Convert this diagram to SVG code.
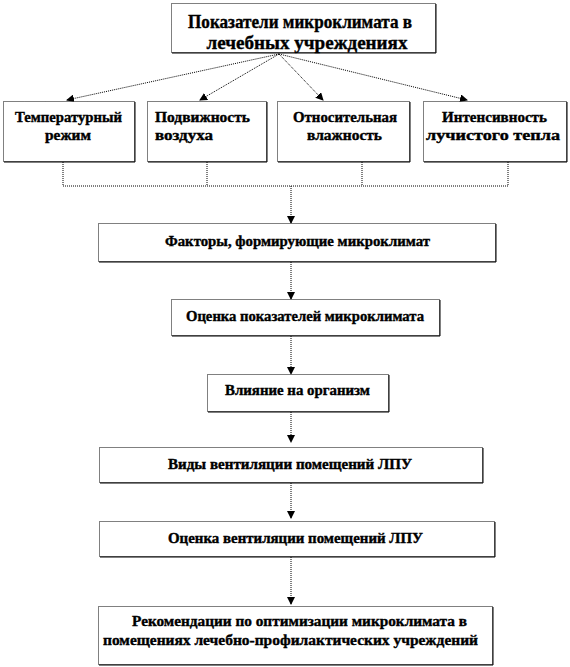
<svg xmlns="http://www.w3.org/2000/svg" width="570" height="667" viewBox="0 0 570 667">
<defs>
<marker id="ah" markerWidth="8" markerHeight="8" refX="7" refY="4" orient="auto" markerUnits="userSpaceOnUse">
<path d="M0,0 L8,4 L0,8 Z" fill="#000"/>
</marker>
<style>
.box{fill:#fff;stroke:#000;stroke-width:1;stroke-dasharray:1 1}
.sh{fill:none;stroke:#000;stroke-width:1}
.t{font-family:"Liberation Serif","Times New Roman",serif;font-weight:bold;fill:#000;stroke:#000;stroke-width:0.4}
.c{text-anchor:middle}
.f13{font-size:15px}
.f18{font-size:19px}
.ln{fill:none;stroke:#000;stroke-width:1;stroke-dasharray:1 1}
.ar{fill:none;stroke:#000;stroke-width:1;stroke-dasharray:1 1;marker-end:url(#ah)}
</style>
</defs>
<rect width="570" height="667" fill="#fff"/>
<g id="connectors">
<line class="ar" x1="279" y1="54" x2="67" y2="100"/>
<line class="ar" x1="279" y1="54" x2="200" y2="100"/>
<line class="ar" x1="279" y1="54" x2="323" y2="100"/>
<line class="ar" x1="279" y1="54" x2="467" y2="100"/>
<polyline class="ln" points="63,162 63,186 508,186 508,162"/>
<line class="ln" x1="207" y1="162" x2="207" y2="186"/>
<line class="ln" x1="362" y1="162" x2="362" y2="186"/>
<line class="ar" x1="291" y1="186" x2="291" y2="223"/>
<line class="ar" x1="291" y1="262" x2="291" y2="299"/>
<line class="ar" x1="291" y1="336" x2="291" y2="374"/>
<line class="ar" x1="291" y1="412" x2="291" y2="442"/>
<line class="ar" x1="291" y1="483" x2="291" y2="518"/>
<line class="ar" x1="291" y1="557" x2="291" y2="604"/>
</g>
<g id="n0">
<rect class="box" x="171.5" y="3.5" width="264" height="49"/>
<polyline class="sh" points="436,4 436,53 172,53"/>
<text class="t c f18" x="300" y="28" textLength="224" lengthAdjust="spacingAndGlyphs">Показатели микроклимата в</text>
<text class="t c f18" x="307" y="49" textLength="201" lengthAdjust="spacingAndGlyphs">лечебных учреждениях</text>
</g>
<g id="n1">
<rect class="box" x="3.5" y="101.5" width="131" height="60"/>
<polyline class="sh" points="135,102 135,162 4,162"/>
<text class="t c f13" x="68.5" y="122" textLength="107" lengthAdjust="spacingAndGlyphs">Температурный</text>
<text class="t c f13" x="68" y="140" textLength="46" lengthAdjust="spacingAndGlyphs">режим</text>
</g>
<g id="n2">
<rect class="box" x="147.5" y="101.5" width="119" height="60"/>
<polyline class="sh" points="267,102 267,162 148,162"/>
<text class="t f13" x="155" y="122" textLength="95" lengthAdjust="spacingAndGlyphs">Подвижность</text>
<text class="t f13" x="155" y="140" textLength="58" lengthAdjust="spacingAndGlyphs">воздуха</text>
</g>
<g id="n3">
<rect class="box" x="277.5" y="101.5" width="132" height="60"/>
<polyline class="sh" points="410,102 410,162 278,162"/>
<text class="t c f13" x="345" y="122" textLength="104" lengthAdjust="spacingAndGlyphs">Относительная</text>
<text class="t c f13" x="344.5" y="140" textLength="75" lengthAdjust="spacingAndGlyphs">влажность</text>
</g>
<g id="n4">
<rect class="box" x="423.5" y="101.5" width="143" height="60"/>
<polyline class="sh" points="567,102 567,162 424,162"/>
<text class="t c f13" x="494.5" y="122" textLength="105" lengthAdjust="spacingAndGlyphs">Интенсивность</text>
<text class="t c f13" x="493" y="140" textLength="134" lengthAdjust="spacingAndGlyphs">лучистого тепла</text>
</g>
<g id="n5">
<rect class="box" x="98.5" y="223.5" width="397" height="38"/>
<polyline class="sh" points="496,224 496,262 99,262"/>
<text class="t c f13" x="297.5" y="246" textLength="265" lengthAdjust="spacingAndGlyphs">Факторы, формирующие  микроклимат</text>
</g>
<g id="n6">
<rect class="box" x="171.5" y="299.5" width="268" height="36"/>
<polyline class="sh" points="440,300 440,336 172,336"/>
<text class="t c f13" x="305" y="321" textLength="238" lengthAdjust="spacingAndGlyphs">Оценка показателей микроклимата</text>
</g>
<g id="n7">
<rect class="box" x="207.5" y="374.5" width="181" height="37"/>
<polyline class="sh" points="389,375 389,412 208,412"/>
<text class="t c f13" x="297.5" y="395" textLength="145" lengthAdjust="spacingAndGlyphs">Влияние на организм</text>
</g>
<g id="n8">
<rect class="box" x="99.5" y="447.5" width="383" height="35"/>
<polyline class="sh" points="483,448 483,483 100,483"/>
<text class="t c f13" x="290" y="469" textLength="244" lengthAdjust="spacingAndGlyphs">Виды вентиляции помещений ЛПУ</text>
</g>
<g id="n9">
<rect class="box" x="99.5" y="521.5" width="395" height="35"/>
<polyline class="sh" points="495,522 495,557 100,557"/>
<text class="t c f13" x="295.5" y="543" textLength="255" lengthAdjust="spacingAndGlyphs">Оценка вентиляции помещений ЛПУ</text>
</g>
<g id="n10">
<rect class="box" x="98.5" y="606.5" width="394" height="58"/>
<polyline class="sh" points="493,607 493,665 99,665"/>
<text class="t c f13" x="299.5" y="626" textLength="335" lengthAdjust="spacingAndGlyphs">Рекомендации по оптимизации микроклимата в</text>
<text class="t c f13" x="290.5" y="645" textLength="375" lengthAdjust="spacingAndGlyphs">помещениях лечебно-профилактических учреждений</text>
</g>
</svg>
